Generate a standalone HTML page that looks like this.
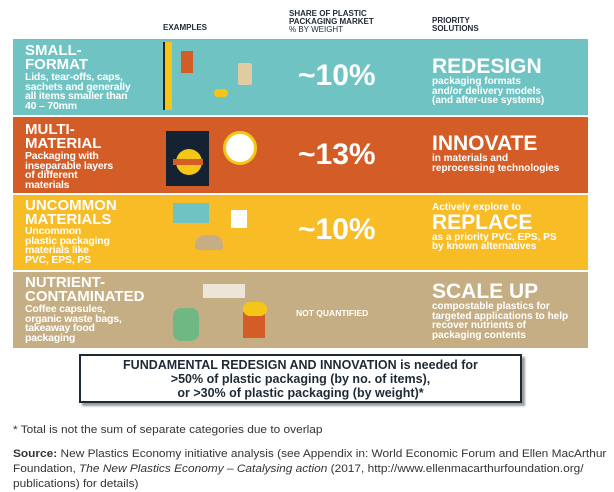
<!DOCTYPE html>
<html><head><meta charset="utf-8"><style>
body{margin:0;width:614px;height:491px;background:#fff;font-family:"Liberation Sans",sans-serif;position:relative;overflow:hidden}
.a{position:absolute}
.h{font-weight:bold;font-size:8px;line-height:8px;color:#1d2a36}
.band{position:absolute;left:13px;width:575px}
.t{position:absolute;left:12px;color:#fff;font-weight:bold}
.tt{font-size:15px;line-height:14px}
.ts{font-size:10.5px;line-height:9.5px;margin-top:1px;letter-spacing:-0.2px}
.pct{position:absolute;left:285px;color:#fff;font-weight:bold;font-size:30px}
.sol{position:absolute;left:419px;color:#fff;font-weight:bold}
.big{font-size:21px;line-height:20px}
.sm{font-size:10px;line-height:9.5px}
.sx{transform-origin:0 0;transform:scaleX(1.08);white-space:nowrap}
</style></head><body>
<div class="a h" style="left:163px;top:24px">EXAMPLES</div>
<div class="a h" style="left:289px;top:10px">SHARE OF PLASTIC<br>PACKAGING MARKET<br><span style="font-weight:normal">% BY WEIGHT</span></div>
<div class="a h" style="left:432px;top:17px">PRIORITY<br>SOLUTIONS</div>

<div class="band" style="top:39px;height:76px;background:#6fc3c3">
 <div class="t" style="top:5px"><div class="tt">SMALL-<br>FORMAT</div><div class="ts">Lids, tear-offs, caps,<br>sachets and generally<br>all items smaller than<br>40 – 70mm</div></div>
 <div class="a" style="left:150px;top:3px;width:7px;height:68px;background:#f5c518;border-left:2px solid #222"></div>
 <div class="a" style="left:168px;top:12px;width:12px;height:22px;background:#d45d27"></div>
 <div class="a" style="left:225px;top:24px;width:14px;height:22px;background:#e0cba3;border-radius:2px"></div>
 <div class="a" style="left:201px;top:50px;width:14px;height:8px;background:#f5c518;border-radius:4px"></div>
 <div class="pct" style="top:20px">~10%</div>
 <div class="sol" style="top:18px"><div class="big">REDESIGN</div><div class="sm">packaging formats<br>and/or delivery models<br>(and after-use systems)</div></div>
</div>

<div class="band" style="top:117px;height:76px;background:#d45d27">
 <div class="t" style="top:6px"><div class="tt">MULTI-<br>MATERIAL</div><div class="ts">Packaging with<br>inseparable layers<br>of different<br>materials</div></div>
 <div class="a" style="left:153px;top:14px;width:43px;height:55px;background:#152232"></div>
 <div class="a" style="left:163px;top:32px;width:26px;height:26px;background:#f5c518;border-radius:50%"></div>
 <div class="a" style="left:160px;top:42px;width:30px;height:6px;background:#d45d27"></div>
 <div class="a" style="left:210px;top:14px;width:28px;height:28px;background:#fff;border:3px solid #f5c518;border-radius:50%"></div>
 <div class="pct" style="top:21px">~13%</div>
 <div class="sol" style="top:17px"><div class="big">INNOVATE</div><div class="sm">in materials and<br>reprocessing technologies</div></div>
</div>

<div class="band" style="top:195px;height:75px;background:#f8bd26">
 <div class="t" style="top:4px"><div class="tt">UNCOMMON<br>MATERIALS</div><div class="ts" style="margin-top:0">Uncommon<br>plastic packaging<br>materials like<br>PVC, EPS, PS</div></div>
 <div class="a" style="left:160px;top:8px;width:36px;height:20px;background:#6fc3c3"></div>
 <div class="a" style="left:218px;top:15px;width:16px;height:18px;background:#fff"></div>
 <div class="a" style="left:182px;top:40px;width:28px;height:15px;background:#c6ae84;border-radius:10px 10px 3px 3px"></div>
 <div class="pct" style="top:18px">~10%</div>
 <div class="sol" style="top:8px"><div class="sm">Actively explore to</div><div class="big">REPLACE</div><div class="sm">as a priority PVC, EPS, PS<br>by known alternatives</div></div>
</div>

<div class="band" style="top:272px;height:76px;background:#c6ae84">
 <div class="t" style="top:4px"><div class="tt">NUTRIENT-<br>CONTAMINATED</div><div class="ts">Coffee capsules,<br>organic waste bags,<br>takeaway food<br>packaging</div></div>
 <div class="a" style="left:190px;top:12px;width:42px;height:14px;background:#ede6d8"></div>
 <div class="a" style="left:160px;top:36px;width:26px;height:33px;background:#6fb883;border-radius:8px"></div>
 <div class="a" style="left:230px;top:40px;width:22px;height:26px;background:#d45d27"></div>
 <div class="a" style="left:230px;top:30px;width:24px;height:14px;background:#f5c518;border-radius:8px"></div>
 <div class="a" style="left:283px;top:36px;color:#fff;font-weight:bold;font-size:8.5px">NOT QUANTIFIED</div>
 <div class="sol" style="top:10px"><div class="big">SCALE UP</div><div class="sm">compostable plastics for<br>targeted applications to help<br>recover nutrients of<br>packaging contents</div></div>
</div>

<div class="a" style="left:79px;top:354px;width:443px;height:49px;border:2px solid #1d2a36;box-shadow:3px 3px 2px #999;text-align:center;font-weight:bold;font-size:12.5px;line-height:14px;color:#1d2a36;padding-top:2px;box-sizing:border-box;white-space:nowrap">FUNDAMENTAL REDESIGN AND INNOVATION is needed for<br>&gt;50% of plastic packaging (by no. of items),<br>or &gt;30% of plastic packaging (by weight)*</div>

<div class="a sx" style="left:13px;top:424px;font-size:11px;color:#333">* Total is not the sum of separate categories due to overlap</div>
<div class="a sx" style="left:13px;top:447px;font-size:11px;line-height:15px;color:#333"><b>Source:</b> New Plastics Economy initiative analysis (see Appendix in: World Economic Forum and Ellen MacArthur<br>Foundation, <i>The New Plastics Economy – Catalysing action</i> (2017, http://www.ellenmacarthurfoundation.org/<br>publications) for details)</div>
</body></html>
